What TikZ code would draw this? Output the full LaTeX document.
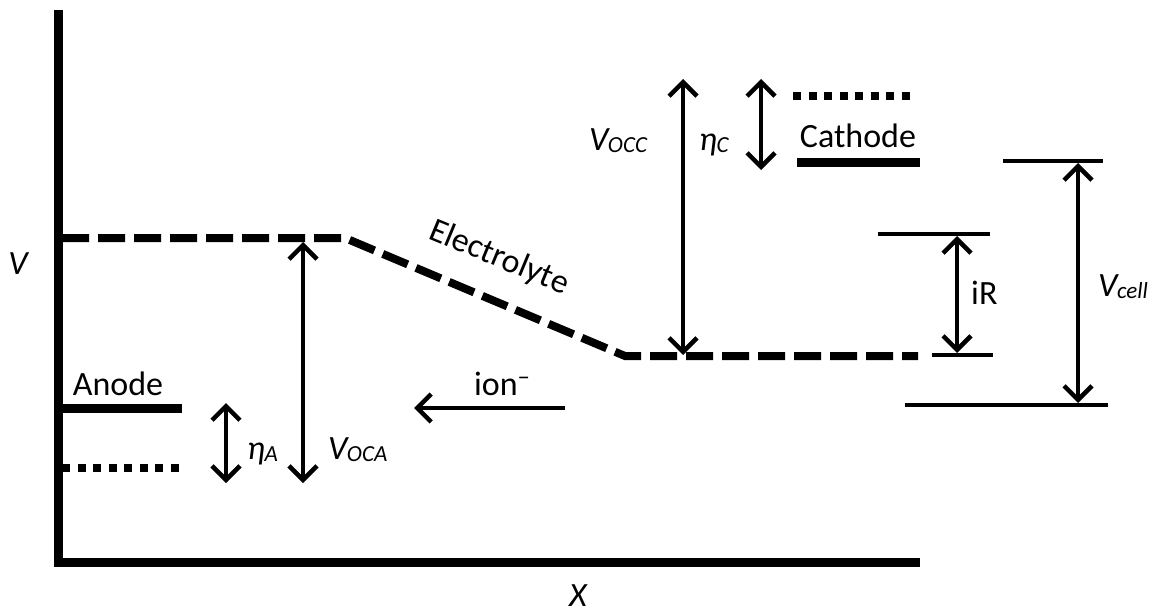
\documentclass[tikz,border=0pt]{standalone}
\usepackage{fontspec}
\setmainfont{Carlito}
\usetikzlibrary{arrows.meta}
% italic quantity with a lowered, smaller subscript
\newcommand\qsub[2]{#1\kern-0.5pt\raisebox{-2.5pt}{\fontsize{23}{26}\selectfont #2}}
\begin{document}
\begin{tikzpicture}[x=1pt,y=-1pt,
  axis/.style={line width=9pt},
  level/.style={line width=9pt},
  thinlevel/.style={line width=4.5pt},
  dashlevel/.style={line width=8pt,dash pattern=on 27pt off 9pt},
  dotlevel/.style={line width=8pt,dash pattern=on 8pt off 7.5pt},
  dim/.style={line width=3.5pt,{Straight Barb[length=14pt,width=28pt,line width=4.5pt]}-{Straight Barb[length=14pt,width=28pt,line width=4.5pt]}},
  onedim/.style={line width=3.5pt,-{Straight Barb[length=14pt,width=28pt,line width=4.5pt]}},
  lbl/.style={font=\fontsize{34}{40}\selectfont,inner sep=0pt},
  mlbl/.style={font=\fontsize{34}{40}\selectfont\itshape,inner sep=0pt}]
\useasboundingbox (0,0) rectangle (1153,613);

% axes
\coordinate (top) at (58,10);
\coordinate (xend) at (920,562);
\draw[axis] (top) -- (58,566);
\draw[axis] (54,562) -- (xend);
\node[mlbl,anchor=base] (xlab) at (578,606) {X};
\node[mlbl,anchor=base] (vlab) at (18,274) {V};

% electrolyte potential
\coordinate (e0) at (62,238);
\coordinate (e1) at (345,238);
\coordinate (e2) at (625,356);
\coordinate (e3) at (918,356);
\draw[dashlevel] (e0) -- (e1) -- (e2) -- (e3);
\node[lbl,rotate=-22.5] (elec) at (499,258) {Electrolyte};

% anode levels
\coordinate (an0) at (62,408);
\coordinate (an1) at (182,408);
\draw[level] (an0) -- (an1);
\coordinate (ad0) at (62,468);
\coordinate (ad1) at (182,468);
\draw[dotlevel] (ad0) -- (ad1);
\node[lbl,anchor=base] (anode) at (118,395) {Anode};

% cathode levels
\coordinate (ca0) at (797,162);
\coordinate (ca1) at (920,162);
\draw[level] (ca0) -- (ca1);
\coordinate (cd0) at (793,96);
\coordinate (cd1) at (916,96);
\draw[dotlevel] (cd0) -- (cd1);
\node[lbl,anchor=base] (cathode) at (858,147) {Cathode};

% iR and cell voltage reference lines
\coordinate (ir0) at (878,234);
\coordinate (ir1) at (990,234);
\draw[thinlevel] (ir0) -- (ir1);
\coordinate (irb0) at (932,355);
\coordinate (irb1) at (993,355);
\draw[thinlevel] (irb0) -- (irb1);
\coordinate (vc0) at (1003,161);
\coordinate (vc1) at (1103,161);
\draw[thinlevel] (vc0) -- (vc1);
\coordinate (vcb0) at (905,405);
\coordinate (vcb1) at (1108,405);
\draw[thinlevel] (vcb0) -- (vcb1);

% dimension arrows
\coordinate (oca0) at (303,242);
\coordinate (oca1) at (303,483);
\draw[dim] (oca0) -- (oca1);
\node[mlbl,anchor=base west] (ocalab) at (328,459) {\qsub{V}{OCA}};

\coordinate (eta0) at (226,403);
\coordinate (eta1) at (226,483);
\draw[dim] (eta0) -- (eta1);
\node[mlbl,anchor=base west] (etaalab) at (247,459) {\qsub{η}{A}};

\coordinate (occ0) at (683,79);
\coordinate (occ1) at (683,355);
\draw[dim] (occ0) -- (occ1);
\node[mlbl,anchor=base west] (occlab) at (589,150) {\qsub{V}{OCC}};

\coordinate (etc0) at (761,79);
\coordinate (etc1) at (761,170);
\draw[dim] (etc0) -- (etc1);
\node[mlbl,anchor=base west] (etaclab) at (699,150) {\qsub{η}{C}};

\coordinate (irt) at (957,236);
\coordinate (irb) at (957,353);
\draw[dim] (irt) -- (irb);
\node[lbl,anchor=base west] (irlab) at (971,304) {iR};

\coordinate (cellt) at (1078,163);
\coordinate (cellb) at (1078,403);
\draw[dim] (cellt) -- (cellb);
\node[mlbl,anchor=base west] (celllab) at (1098,296) {\qsub{V}{cell}};

% ion flow
\coordinate (ion0) at (565,408);
\coordinate (ion1) at (414,408);
\draw[onedim] (ion0) -- (ion1);
\node[lbl,anchor=base west] (ionlab) at (474,395) {ion\textsuperscript{−}};
\end{tikzpicture}
\end{document}
